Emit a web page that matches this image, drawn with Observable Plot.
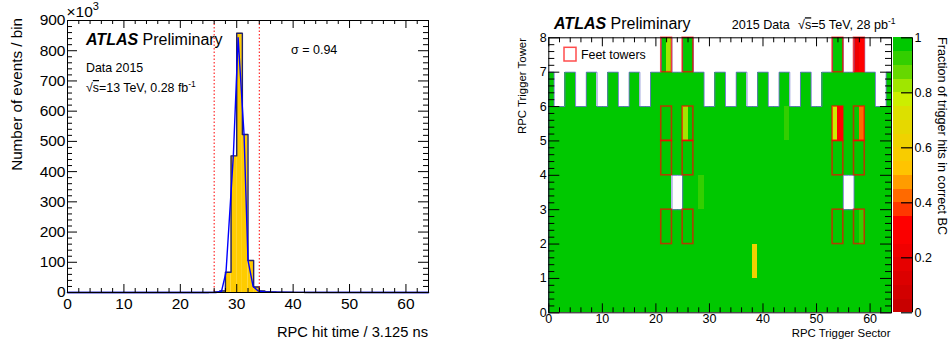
<!DOCTYPE html>
<html><head><meta charset="utf-8">
<script src="https://cdn.jsdelivr.net/npm/d3@7"></script>
<script src="https://cdn.jsdelivr.net/npm/@observablehq/plot@0.6"></script>
<style>
html,body{margin:0;padding:0;background:#fff;}
#root{position:relative;width:952px;height:349px;overflow:hidden;font-family:"Liberation Sans",Arial,Helvetica,sans-serif;}
#root svg{position:absolute;top:0;background:transparent;}
</style></head><body><div id="root"></div>
<script>
// ================= DATA =================
// Left: RPC hit time histogram (bins of 1 unit = 3.125 ns), counts in 10^3 events
const timeBinStart = d3.range(64);
const eventCounts = [
  0,0,0,0,0,0,0,0,0,0, 0,0,0,0,0,0,0,0,0,0, 0,0,0,0,0,
  0.3,1.5,5,67,452,858,523,106,18,5,2.5,1.5,1,0.8,0.6,0.4,0.3,0.2,0.2,0.1,
  0,0,0,0,0,0,0,0,0,0, 0,0,0,0,0,0,0,0,0
];
const curveTime   = [0, 26.3, 27.3, 28.1, 29.4, 30.25, 31.3, 32.0, 32.9, 33.8, 35, 37, 40, 64];
const curveCounts = [0, 0,    4,    67,   452,  843,   523,  106,  20,   5,    2,  1,  0.3, 0];
const timeWindow = [26, 34];
const timeTickLabels = [0,10,20,30,40,50,60];
const countTickLabels = [0,100,200,300,400,500,600,700,800,900];

// Right: fraction of trigger hits in correct BC per (sector, tower)
const sectorIds = d3.range(64);
const towerIds = d3.range(8);
const filledInTower7 = [21,22,25,26,53,54,57,58];
const emptyInTower6 = [1,2,5,6,9,10,13,14,17,18,29,30,33,34,37,38,41,42,45,46,49,50,61,62];
const emptyInTower3 = [23,24,55,56];
const defaultFraction = 0.98;
const lowSector   = [22,   57,   58,   25,   44,   53,   54,   58,   28,   58,   38];
const lowTower    = [7,    7,    7,    5,    5,    5,    5,    5,    3,    2,    1];
const lowFraction = [0.84, 0.22, 0.31, 0.84, 0.92, 0.78, 0.31, 0.42, 0.92, 0.93, 0.62];
const feetSectors = [21,25,53,57];
const feetTowers = [2,4,5,7];
const sectorTickLabels = [0,10,20,30,40,50,60];
const towerTickLabels = [0,1,2,3,4,5,6,7,8];
const paletteColors = ["#c80000","#d20000","#dc0000","#e60000","#f00000","#fa0000","#ff0000","#ff3800","#ff6a00","#ff9c00",
                       "#ffc400","#f8cc00","#efd200","#e6d800","#dce000","#ccee00","#a0e600","#66d800","#33cf00","#00c800"];
const colorbarTicks = [0,0.2,0.4,0.6,0.8,1];

// ================= HELPERS =================
const FONT = '"Liberation Sans",Arial,Helvetica,sans-serif';
function frameTicks(xDom, yDom, wPx, hPx, xs, ys) {
  const kx = (xDom[1]-xDom[0])/wPx, ky = (yDom[1]-yDom[0])/hPx;
  return [
    Plot.ruleX(xs, {x: "v", y1: yDom[0], y2: d => yDom[0] + d.len*ky, stroke: "black", strokeWidth: 1}),
    Plot.ruleX(xs, {x: "v", y1: yDom[1], y2: d => yDom[1] - d.len*ky, stroke: "black", strokeWidth: 1}),
    Plot.ruleY(ys, {y: "v", x1: xDom[0], x2: d => xDom[0] + d.len*kx, stroke: "black", strokeWidth: 1}),
    Plot.ruleY(ys, {y: "v", x1: xDom[1], x2: d => xDom[1] - d.len*kx, stroke: "black", strokeWidth: 1})
  ];
}
function tickList(lo, hi, step, majorEvery, majLen, minLen) {
  const out = [];
  const n = Math.round((hi-lo)/step);
  for (let i = 0; i <= n; i++) {
    const v = +(lo + i*step).toFixed(6);
    out.push({v, len: (i % majorEvery === 0) ? majLen : minLen});
  }
  return out;
}
const root = document.getElementById("root");

// ================= LEFT PANEL =================
{
  const W = 470, H = 349, mL = 67, mR = 42, mT = 20, mB = 57;
  const xDom = [0,64], yDom = [0,900];
  const bins = timeBinStart.map((t,i) => ({t, c: eventCounts[i]}));
  const steps = bins.concat([{t: 64, c: eventCounts[63]}]);
  const curve = curveTime.map((t,i) => ({t, c: curveCounts[i]}));
  const p = Plot.plot({
    width: W, height: H, marginLeft: mL, marginRight: mR, marginTop: mT, marginBottom: mB,
    x: {domain: xDom}, y: {domain: yDom},
    style: {fontFamily: FONT, background: "transparent", overflow: "visible"},
    marks: [
      Plot.rect(bins, {x1: "t", x2: d => d.t+1, y1: 0, y2: "c", fill: "#ffcc00"}),
      Plot.line(steps, {x: "t", y: "c", curve: "step-after", stroke: "#22226a", strokeWidth: 1.4}),
      Plot.line(curve, {x: "t", y: "c", stroke: "#0000ff", strokeWidth: 1.4}),
      Plot.ruleX(timeWindow, {stroke: "#ff0000", strokeWidth: 1, strokeDasharray: "1.5,2"}),
      Plot.frame({stroke: "black"}),
      ...frameTicks(xDom, yDom, W-mL-mR, H-mT-mB, tickList(0,64,2,5,8,4), tickList(0,900,20,5,10,5)),
      Plot.axisX(timeTickLabels, {tickSize: 0, tickPadding: 5, fontSize: 15.5, label: null}),
      Plot.axisY(countTickLabels, {tickSize: 0, tickPadding: 2, fontSize: 15.5, label: null})
    ]
  });
  p.style.left = "0px";
  root.appendChild(p);
}

// ================= RIGHT PANEL =================
const colorScale = {type: "threshold", domain: d3.range(1,20).map(i => i/20), range: paletteColors};
{
  const W = 472, H = 349, mL = 68.3, mR = 61, mT = 37.3, mB = 36.7;
  const xDom = [0,64], yDom = [0,8];
  const isEmpty = (s,t) => (t === 7 && !filledInTower7.includes(s)) ||
                           (t === 6 && emptyInTower6.includes(s)) ||
                           (t === 3 && emptyInTower3.includes(s));
  const cells = [];
  for (const t of towerIds) for (const s of sectorIds) {
    if (isEmpty(s,t)) continue;
    let v = defaultFraction;
    lowSector.forEach((ls,i) => { if (ls === s && lowTower[i] === t) v = lowFraction[i]; });
    cells.push({s, t, v});
  }
  // outline between empty and filled cells
  const segs = [];
  for (const t of towerIds) for (const s of sectorIds) {
    if (isEmpty(s,t)) {
      if (s > 0 && !isEmpty(s-1,t)) segs.push({x1:s, y1:t, x2:s, y2:t+1});
      if (s < 63 && !isEmpty(s+1,t)) segs.push({x1:s+1, y1:t, x2:s+1, y2:t+1});
      if (t > 0 && !isEmpty(s,t-1)) segs.push({x1:s, y1:t, x2:s+1, y2:t});
      if (t < 7 && !isEmpty(s,t+1)) segs.push({x1:s, y1:t+1, x2:s+1, y2:t+1});
    } else if (s === 0) {
      segs.push({x1:0, y1:t, x2:0, y2:t+1});
    }
  }
  const boxes = [];
  for (const s of feetSectors) for (const t of feetTowers) boxes.push({s, t});
  const p = Plot.plot({
    width: W, height: H, marginLeft: mL, marginRight: mR, marginTop: mT, marginBottom: mB,
    x: {domain: xDom}, y: {domain: yDom}, color: colorScale,
    style: {fontFamily: FONT, background: "transparent", overflow: "visible"},
    marks: [
      Plot.rect(cells, {x1: "s", x2: d => d.s+1, y1: "t", y2: d => d.t+1, fill: "v", shapeRendering: "crispEdges"}),
      Plot.link(segs, {x1: "x1", y1: "y1", x2: "x2", y2: "y2", stroke: "#6a74c8", strokeWidth: 0.9}),
      Plot.rect(boxes, {x1: "s", x2: d => d.s+2, y1: "t", y2: d => d.t+1, fill: "none", stroke: "#ff0000", strokeOpacity: 0.68, strokeWidth: 1.6}),
      Plot.frame({stroke: "black"}),
      ...frameTicks(xDom, yDom, W-mL-mR, H-mT-mB, tickList(0,64,2,5,9,5), tickList(0,8,0.2,5,11,6)),
      Plot.axisX(sectorTickLabels, {tickSize: 0, tickPadding: 1, fontSize: 12.5, label: null}),
      Plot.axisY(towerTickLabels, {tickSize: 0, tickPadding: 2, fontSize: 12.5, label: null})
    ]
  });
  p.style.left = "480px";
  root.appendChild(p);
}

// ================= COLOR BAR =================
{
  const W = 59, H = 349, mL = 0, mR = 40, mT = 37.3, mB = 36.7;
  const levels = paletteColors.map((c,i) => ({lo: i/20, hi: (i+1)/20, mid: (i+0.5)/20}));
  const ticks = colorbarTicks.map(v => ({v, len: 11}));
  const p = Plot.plot({
    width: W, height: H, marginLeft: mL, marginRight: mR, marginTop: mT, marginBottom: mB,
    x: {domain: [0,1], axis: null}, y: {domain: [0,1]}, color: colorScale,
    style: {fontFamily: FONT, background: "transparent", overflow: "visible"},
    marks: [
      Plot.rect(levels, {x1: 0, x2: 1, y1: "lo", y2: "hi", fill: "mid", shapeRendering: "crispEdges"}),
      Plot.ruleY(ticks, {y: "v", x1: 1, x2: d => 1 - d.len/19, stroke: "black", strokeWidth: 1.2}),
      Plot.ruleX([1], {stroke: "black", strokeWidth: 1}),
      Plot.axisY(colorbarTicks, {anchor: "right", tickSize: 0, tickPadding: 2, fontSize: 12.5, label: null,
        tickFormat: d => (d === 0 || d === 1) ? String(d) : d.toFixed(1)})
    ]
  });
  p.style.left = "893.3px";
  root.appendChild(p);
}

// ================= TEXT OVERLAY =================
{
  const ns = "http://www.w3.org/2000/svg";
  const svg = document.createElementNS(ns, "svg");
  svg.setAttribute("width", 952); svg.setAttribute("height", 349);
  svg.style.left = "0px"; svg.style.pointerEvents = "none";
  svg.setAttribute("font-family", FONT);
  svg.innerHTML = `
    <text x="66.5" y="17" font-size="15.5">×10<tspan dy="-7" font-size="11">3</tspan></text>
    <text transform="translate(22,18) rotate(-90)" text-anchor="end" font-size="15.2">Number of events / bin</text>
    <text x="428" y="337" text-anchor="end" font-size="14.7">RPC hit time / 3.125 ns</text>
    <text x="86" y="45" font-size="16"><tspan font-weight="bold" font-style="italic">ATLAS</tspan> Preliminary</text>
    <text x="86" y="72" font-size="12.4">Data 2015</text>
    <text x="86" y="92" font-size="12.4">√<tspan style="text-decoration:overline">s</tspan>=13 TeV, 0.28 fb<tspan dy="-5" font-size="8.5">-1</tspan></text>
    <text x="291" y="54" font-size="12.5">σ = 0.94</text>

    <text x="554" y="29.3" font-size="16"><tspan font-weight="bold" font-style="italic">ATLAS</tspan> Preliminary</text>
    <text x="731.7" y="29.3" font-size="12.6">2015 Data</text>
    <text x="798" y="29.3" font-size="12.6">√<tspan style="text-decoration:overline">s</tspan>=5 TeV, 28 pb<tspan dy="-5" font-size="8.5">-1</tspan></text>
    <rect x="564" y="47.3" width="12" height="13.7" fill="white" stroke="#ff0000" stroke-opacity="0.7" stroke-width="1.5"/>
    <text x="581" y="59" font-size="12.4">Feet towers</text>
    <text transform="translate(526,38) rotate(-90)" text-anchor="end" font-size="11.4">RPC Trigger Tower</text>
    <text x="890.5" y="336.5" text-anchor="end" font-size="11.4">RPC Trigger Sector</text>
    <text transform="translate(938,37) rotate(90)" text-anchor="start" font-size="12.6">Fraction of trigger hits in correct BC</text>
  `;
  root.appendChild(svg);
}
</script></body></html>
